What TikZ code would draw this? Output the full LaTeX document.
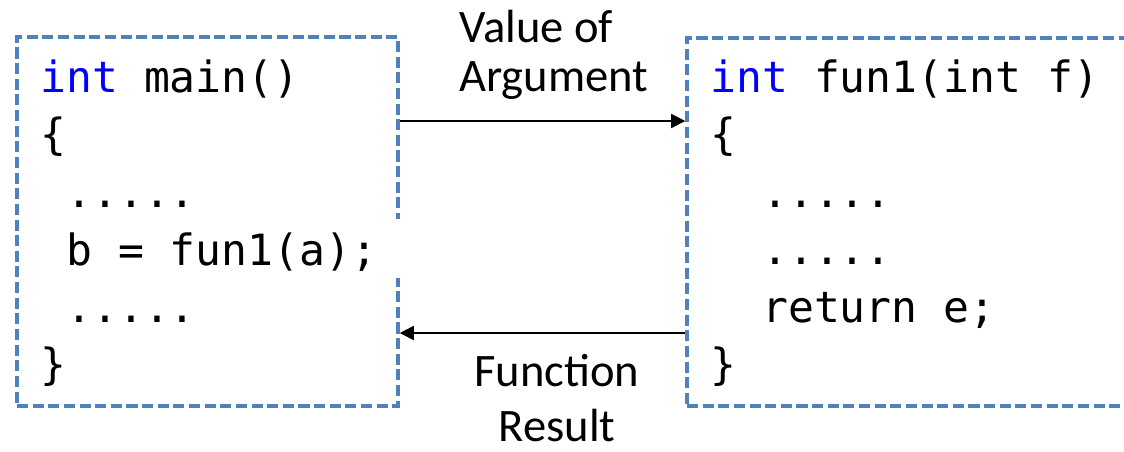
\documentclass[tikz,border=0pt]{standalone}
\usepackage{fontspec}
\setmonofont{DejaVu Sans Mono}
\newfontfamily\labelfont{Carlito}
\usetikzlibrary{arrows.meta,positioning,fit}
\definecolor{boxblue}{HTML}{4F81BD}
\definecolor{kwblue}{HTML}{0000FF}
\tikzset{
  codebox/.style={draw=boxblue,line width=2pt,dash pattern=on 6.3pt off 2.6pt,inner sep=0pt},
  codeline/.style={anchor=base west,inner sep=0pt,font=\ttfamily\fontsize{24.5}{28}\selectfont},
  flowlabel/.style={inner sep=0pt,font=\labelfont\fontsize{26.5}{28}\selectfont},
  flow/.style={line width=0.9pt,-{Triangle[length=8pt,width=8pt]}}
}
\newcommand{\kw}[1]{\textcolor{kwblue}{#1}}
\newcommand{\elided}{.....}
\begin{document}
\begin{tikzpicture}[x=0.02cm,y=-0.02cm]
    \useasboundingbox (0,0) rectangle (1124,451);
    \clip (0,0) rectangle (1124,451);
    % the two code boxes
    \node[codebox,fit={(17,37) (398,406)}] (mainbox) {};
    \node[codebox,fit={(687,38) (1170,406)}] (funbox) {};
    % caller
    \foreach \txt [count=\i] in {{\kw{int} main()},{\{},{\ \elided}} {
      \node[codeline] (main\i) at (40,{92+57.5*(\i-1)}) {\txt};
    }
    \node[codeline,fill=white,text height=26pt,text depth=7.4pt] (main4) at (40,265) {\makebox[7.3cm][l]{\ b = fun1(a);}};
    \foreach \txt [count=\i from 5] in {{\ \elided},{\}}} {
      \node[codeline] (main\i) at (40,{92+57.5*(\i-1)}) {\txt};
    }
    % callee
    \foreach \txt [count=\i] in {{\kw{int} fun1(int f)},{\{},{\ \ \elided},{\ \ \elided},{\ \ return e;},{\}}} {
      \node[codeline] (fun\i) at (710,{92+57.5*(\i-1)}) {\txt};
    }
    % arguments in, result out
    \coordinate (argy) at (0,121);
    \coordinate (resy) at (0,333);
    \draw[flow] (mainbox.east |- argy) -- (funbox.west |- argy);
    \draw[flow] (funbox.west |- resy) -- (mainbox.east |- resy);
    \node[flowlabel,anchor=west,align=left] (arglabel) at (459,55) {Value of\\Argument};
    \node[flowlabel,align=center,font=\labelfont\fontsize{26.5}{31}\selectfont] (reslabel) at (557,398) {Function\\Result};
\end{tikzpicture}
\end{document}
